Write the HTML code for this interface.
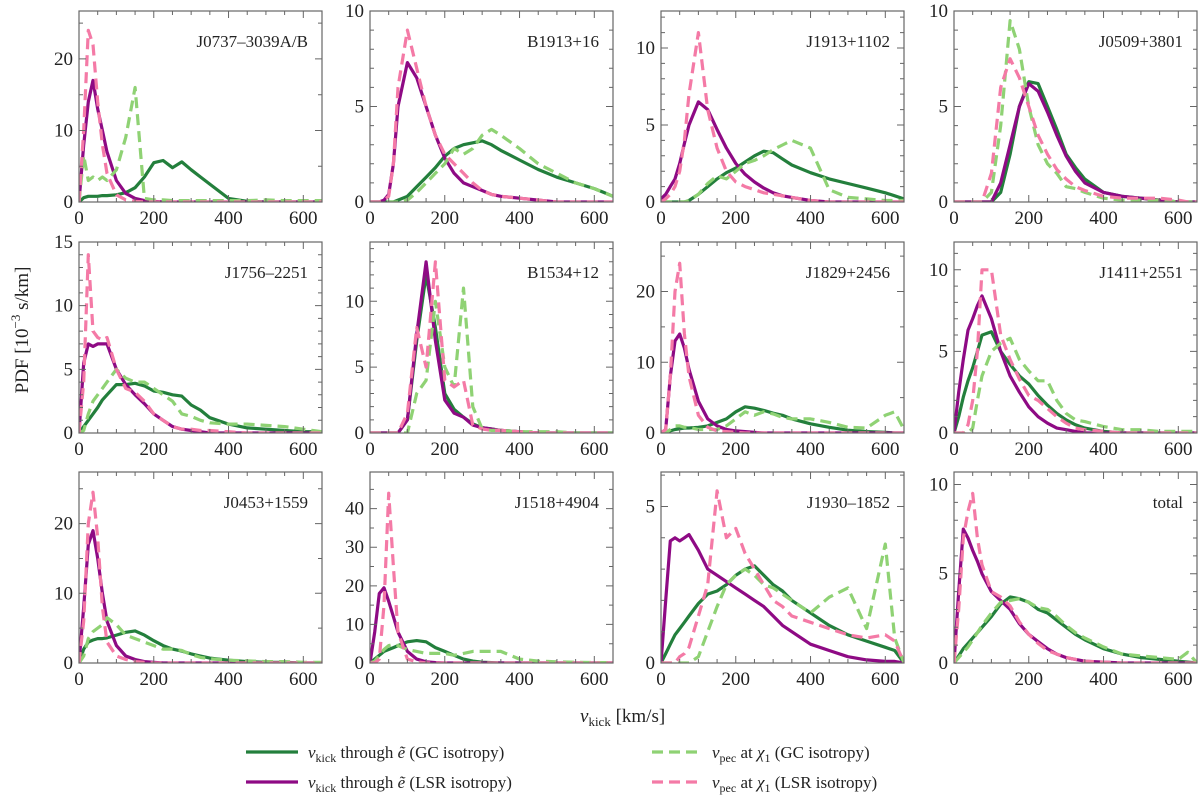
<!DOCTYPE html>
<html><head><meta charset="utf-8"><style>
body{margin:0;background:#fff}
svg{display:block;font-family:"Liberation Serif",serif}
</style></head><body>
<svg id="c" width="1200" height="802" viewBox="0 0 1200 802"></svg>
<script>
const xs=[0,12.5,25,37.5,50,62.5,75,100,125,150,175,200,225,250,275,300,325,350,400,450,500,550,600,625,650];
const names=["J0737\u20133039A/B","B1913+16","J1913+1102","J0509+3801","J1756\u20132251","B1534+12","J1829+2456","J1411+2551","J0453+1559","J1518+4904","J1930\u20131852","total"];
const ymaxs=[26.7,10,12.4,10,15,14.5,27,11.7,27.4,49.5,6.1,10.7];
const ymajor=[10,5,5,5,5,5,10,5,10,10,5,5];
const yminor=[5,1,1,1,1,1,5,1,5,5,1,1];
const gcSolid=[
[0,0.6,0.8,0.8,0.8,0.9,0.9,1,1.3,2,3.5,5.5,5.8,4.8,5.6,4.5,3.5,2.5,0.5,0.1,0,0,0,0,0],
[0,0,0,0,0,0,0.1,0.3,0.8,1.3,1.8,2.4,2.8,3,3.1,3.2,3,2.7,2.2,1.7,1.3,1,0.7,0.5,0.3],
[0,0,0,0,0,0,0.1,0.5,1,1.5,1.9,2.2,2.6,3,3.3,3.2,2.8,2.4,1.9,1.5,1.2,0.9,0.6,0.4,0.2],
[0,0,0,0,0,0,0,0,0.5,2.5,5,6.3,6.2,5,3.8,2.5,1.8,1.2,0.5,0.3,0.2,0.1,0,0,0],
[0,0.5,1,1.5,2,2.6,3,3.8,3.8,3.9,3.7,3.3,3.2,3,2.9,2.2,1.8,1.2,0.7,0.4,0.3,0.2,0.1,0.1,0.1],
[0,0,0,0,0,0,0,1,7,12,8,3,1.8,1.2,0.7,0.4,0.3,0.2,0.1,0,0,0,0,0,0],
[0,0,0.3,0.5,0.6,0.7,0.7,0.8,1,1.5,2,3,3.7,3.5,3.2,2.8,2.5,2,1.3,0.8,0.4,0.2,0.1,0,0],
[0,1,2.2,3.2,4,5,6,6.2,5,4.2,3.5,3,2.3,1.7,1.2,0.8,0.5,0.3,0.1,0,0,0,0,0,0],
[0,2,3,3.3,3.5,3.5,3.6,4,4.4,4.6,4,3.2,2.5,2,1.7,1.3,1,0.7,0.4,0.2,0.1,0.1,0,0,0],
[0,1,2,3,3.5,4,4.5,5.5,5.8,5.5,4,3,2,1,0.5,0.2,0.1,0,0,0,0,0,0,0,0],
[0,0.3,0.6,0.9,1.1,1.3,1.5,1.9,2.2,2.3,2.5,2.8,3,3.1,2.8,2.5,2.3,2,1.6,1.2,0.9,0.7,0.5,0.4,0],
[0,0.4,0.8,1.1,1.4,1.7,2,2.6,3.3,3.7,3.6,3.4,3,2.8,2.4,2,1.6,1.3,0.8,0.5,0.3,0.2,0.1,0.05,0]];
const lsrSolid=[
[0,8,14,17,13,10,7,3,1.2,0.5,0.2,0.1,0,0,0,0,0,0,0,0,0,0,0,0,0],
[0,0,0,0.1,0.4,2,5,7.3,6.5,5,3.5,2.3,1.5,1,0.8,0.6,0.4,0.3,0.2,0.1,0,0,0,0,0],
[0.2,0.5,1,1.5,2.5,3.8,5,6.5,6,4.7,3.5,2.5,1.8,1.3,0.9,0.6,0.4,0.3,0.1,0,0,0,0,0,0],
[0,0,0,0,0,0,0,0,1,3,5,6.2,5.8,4.7,3.5,2.4,1.6,1,0.5,0.3,0.2,0.1,0,0,0],
[0,5.5,7,6.8,7,7,7,5,3.8,3,2.3,1.5,1,0.5,0.3,0.2,0.1,0,0,0,0,0,0,0,0],
[0,0,0,0,0,0,0,1,7.5,13,7,2.5,1.5,1.2,0.6,0.4,0.3,0.2,0.1,0,0,0,0,0,0],
[0,0.5,8,13,14,12,9,4.5,2,1,0.5,0.3,0.2,0.1,0,0,0,0,0,0,0,0,0,0,0],
[0,2.5,4.5,6.3,7,7.8,8.4,7,5,3.5,2.5,1.6,1,0.6,0.3,0.2,0.1,0,0,0,0,0,0,0,0],
[0,8,17,19,15,10,6,2.5,1,0.5,0.2,0.1,0,0,0,0,0,0,0,0,0,0,0,0,0],
[0,8,18,19.5,16,12,8,3,1,0.3,0.1,0,0,0,0,0,0,0,0,0,0,0,0,0,0],
[0,2,3.9,4,3.9,4,4.1,3.6,3,2.8,2.6,2.4,2.2,2,1.8,1.5,1.2,1,0.6,0.4,0.2,0.1,0.05,0.05,0],
[0,4,7.5,7,6.3,5.7,5,4,3.5,3,2.2,1.6,1.2,0.8,0.5,0.3,0.2,0.1,0.05,0,0,0,0,0,0]];
const gcDashed=[
[0,6.5,3,3.5,3,3.5,3,4.5,9,16,0.5,0.3,0.3,0.2,0.2,0.2,0.2,0.2,0.2,0.2,0.3,0.2,0.2,0.2,0.2],
[0,0,0,0,0,0,0,0.1,0.5,1,1.5,2,2.8,2.5,2.8,3.5,3.8,3.5,2.8,2,1.5,1,0.7,0.5,0.3],
[0,0,0,0,0,0,0.1,0.5,1.2,1.7,1.5,2,2.5,2.7,3,3.4,3.7,4,3.5,0.8,0.3,0.2,0.1,0.1,0.1],
[0,0,0,0,0,0,0,0.5,4,9.5,8,5,3,2,1.5,0.8,0.7,0.5,0.2,0.1,0.1,0.1,0,0,0],
[0,0.2,1.5,2.5,3,3.5,4,5,4.3,4,4,3.5,3,2.5,1.5,1.3,1,0.8,0.7,0.7,0.6,0.5,0.3,0.2,0.1],
[0,0,0,0,0,0,0,0,3,4,10,5,3.5,11,2,0.3,0.2,0.2,0.1,0.1,0.1,0,0,0,0],
[0,0,0.5,1,1,0.8,0.8,0.5,0.5,0.5,1,2,3,2.5,3,2.7,2.2,2,2,1.5,0.8,0.7,2.5,3,0.5],
[0,0,0,0,0.3,2,3.5,5,5.5,5.8,4.5,3.8,3.2,3.2,2,1.2,0.8,0.7,0.4,0.2,0.2,0.1,0.1,0.1,0.1],
[0,1,3.5,4.5,5,5.5,6.5,5.5,4,3.5,3,2.5,2,2,1.8,1.2,0.8,0.6,0.4,0.3,0.2,0.2,0.1,0.1,0.1],
[0,0.5,2,3.5,4.5,4.8,4.5,3.5,3,2.5,2.5,2.5,2,2.5,3,3,3,3,1,0.5,0.3,0.2,0.1,0.1,0.1],
[0,0,0,0,0,0,0,0.2,1,1.8,2.5,2.8,3,2.8,2.5,2.4,2.2,2,1.6,2.1,2.4,1.1,3.8,0.8,0],
[0,0.3,0.6,0.9,1.3,1.7,2.1,2.8,3.4,3.5,3.6,3.4,3.1,3,2.6,2.1,1.7,1.4,0.9,0.5,0.4,0.3,0.2,0.6,0]];
const lsrDashed=[
[0,10,24,22,14,8,4,1,0.3,0.1,0,0,0,0,0,0,0,0,0,0,0,0,0,0,0],
[0,0,0,0.1,0.3,2,6,9,7,5,3.5,2.5,2,1.5,1,0.6,0.4,0.3,0.2,0.1,0,0,0,0,0],
[0,0.2,0.5,1,2,4,7,11,6,3.5,2,1.3,1,0.8,0.6,0.5,0.4,0.3,0.1,0,0,0,0,0,0],
[0,0,0,0,0,0,0,1.5,6,7.5,6.5,5,3.5,2.5,1.7,1.2,0.8,0.6,0.3,0.2,0.2,0.2,0.1,0,0],
[0,4,14,8,7.5,7.3,7.5,5,3.5,3.2,2.5,1.5,1,0.5,0.3,0.3,0.2,0.2,0.1,0,0,0,0,0,0],
[0,0,0,0,0,0,0,1.5,8,5,13,4,3.5,4,0.6,0.3,0.2,0.2,0.1,0,0,0,0,0,0],
[0,0.5,8,20,24,14,8,2.5,0.8,0.3,0.2,0.1,0,0,0,0,0,0,0,0,0,0,0,0,0],
[0,0,0,0.5,2,5,10,10,6,4.5,3.3,2.3,2,1.5,1,0.6,0.3,0.2,0.1,0,0,0,0,0,0],
[0,6,20,24.5,18,8,3,1,0.5,0.2,0.1,0,0,0,0,0,0,0,0,0,0,0,0,0,0],
[0,0,1,15,44,25,8,1,0.3,0,0,0,0,0,0,0,0,0,0,0,0,0,0,0,0],
[0,0,0,0,0.2,0.3,0.5,1.5,2.5,5.5,4,4.3,3.5,3,2.5,2,1.8,1.5,1.3,1.1,0.9,0.8,0.9,0.7,0],
[0,3,7,8.5,9.5,7,5.5,4,3.7,3.2,2.3,1.6,1.1,0.7,0.5,0.3,0.2,0.1,0.05,0,0,0,0,0,0]];
const xTicks=[0,200,400,600];

const NS="http://www.w3.org/2000/svg";
const svg=document.getElementById('c');
function mk(tag,at,parent){const e=document.createElementNS(NS,tag);for(const k in at)e.setAttribute(k,at[k]);(parent||svg).appendChild(e);return e;}
const colL=[79,370,661,954],rowT=[11,242,472],W=243,H=191,XMAX=650;
const styles=[
 {arr:gcSolid,c:"#237f3c",d:null,n:"gc-kick-line"},
 {arr:lsrSolid,c:"#8e0a84",d:null,n:"lsr-kick-line"},
 {arr:gcDashed,c:"#8fd274",d:"11,6",n:"gc-pec-line"},
 {arr:lsrDashed,c:"#f47aa6",d:"11,6",n:"lsr-pec-line"}];
for(let p=0;p<12;p++){
 const L=colL[p%4],T=rowT[Math.floor(p/4)],B=T+H,R=L+W;
 const g=mk('g',{});
 
 
 const X=v=>L+v/XMAX*W, Y=v=>B-v/ymaxs[p]*H;
 const clip=mk('clipPath',{id:'cl'+p},g);mk('rect',{x:L,y:T,width:W,height:H},clip);
 for(const s of styles){
  const d=s.arr[p].map((v,i)=>(i?'L':'M')+X(xs[i]).toFixed(1)+','+Y(v).toFixed(1)).join('');
  const a={d:d,fill:'none',stroke:s.c,'stroke-width':3.2,'stroke-linejoin':'round','clip-path':'url(#cl'+p+')'};
  if(s.d)a['stroke-dasharray']=s.d;
  const e=mk('path',a,g);
  
  
 }
 const fr=mk('rect',{x:L,y:T,width:W,height:H,fill:'none',stroke:'#666','stroke-width':1.2},g);
 
 
 let tk='';
 for(let v=0;v<=XMAX;v+=50){const x=X(v),len=v%200===0?7:4;tk+=`M${x},${B}v${-len}M${x},${T}v${len}`;}
 for(let v=0;v<=ymaxs[p]+1e-6;v+=yminor[p]){const y=Y(v),len=Math.abs(v/ymajor[p]-Math.round(v/ymajor[p]))<1e-6?7:4;tk+=`M${L},${y}h${len}M${R},${y}h${-len}`;}
 const te=mk('path',{d:tk,stroke:'#666','stroke-width':1},g);
 
 
 for(const v of xTicks){const t=mk('text',{x:X(v),y:B+22,'text-anchor':'middle','font-size':19,fill:'#222'},g);t.textContent=v;
  
  }
 for(let v=0;v<=ymaxs[p]+1e-6;v+=ymajor[p]){const t=mk('text',{x:L-6,y:Y(v)+6,'text-anchor':'end','font-size':19,fill:'#222'},g);t.textContent=v;
  
  }
 const tt=mk('text',{x:R-14,y:T+36,'text-anchor':'end','font-size':17,fill:'#222'},g);tt.textContent=names[p];
 
 
}
</script>
<svg style="position:absolute;left:0;top:0" width="1200" height="802">
<text transform="translate(28,330) rotate(-90)" text-anchor="middle" font-size="19" fill="#222">PDF [10<tspan dy="-8" font-size="13">−3</tspan><tspan dy="8"> s/km]</tspan></text>
<text x="580" y="722" font-size="19" fill="#222"><tspan font-style="italic">v</tspan><tspan font-size="13" dy="4">kick</tspan><tspan dy="-4">  [km/s]</tspan></text>
<g font-size="17" fill="#222">
<line x1="246" y1="752" x2="298" y2="752" stroke="#237f3c" stroke-width="3.2"/>
<text x="308" y="758"><tspan font-style="italic">v</tspan><tspan font-size="12" dy="4">kick</tspan><tspan dy="-4"> through </tspan><tspan font-style="italic">ẽ</tspan> (GC isotropy)</text>
<line x1="246" y1="782" x2="298" y2="782" stroke="#8e0a84" stroke-width="3.2"/>
<text x="308" y="788"><tspan font-style="italic">v</tspan><tspan font-size="12" dy="4">kick</tspan><tspan dy="-4"> through </tspan><tspan font-style="italic">ẽ</tspan> (LSR isotropy)</text>
<line x1="652" y1="752" x2="702" y2="752" stroke="#8fd274" stroke-width="3.2" stroke-dasharray="11,6"/>
<text x="712" y="758"><tspan font-style="italic">v</tspan><tspan font-size="12" dy="4">pec</tspan><tspan dy="-4"> at </tspan><tspan font-style="italic">χ</tspan><tspan font-size="12" dy="4">1</tspan><tspan dy="-4"> (GC isotropy)</tspan></text>
<line x1="652" y1="782" x2="702" y2="782" stroke="#f47aa6" stroke-width="3.2" stroke-dasharray="11,6"/>
<text x="712" y="788"><tspan font-style="italic">v</tspan><tspan font-size="12" dy="4">pec</tspan><tspan dy="-4"> at </tspan><tspan font-style="italic">χ</tspan><tspan font-size="12" dy="4">1</tspan><tspan dy="-4"> (LSR isotropy)</tspan></text>
</g>
</svg>
</body></html>
